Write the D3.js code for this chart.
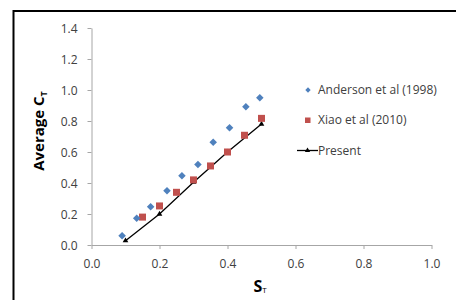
<!DOCTYPE html>
<html><head><meta charset="utf-8">
<script src="https://cdn.jsdelivr.net/npm/d3@7"></script>
<style>body{margin:0;background:#fff}svg{display:block}</style>
</head><body>
<script>
const andersonS = [0.09,0.133,0.174,0.222,0.266,0.313,0.358,0.406,0.454,0.495];
const andersonC = [0.06,0.172,0.247,0.35,0.447,0.52,0.663,0.757,0.892,0.95];
const xiaoS = [0.15,0.2,0.25,0.3,0.35,0.4,0.45,0.5];
const xiaoC = [0.18,0.252,0.34,0.42,0.51,0.60,0.708,0.817];
const presentS = [0.1,0.2,0.3,0.4,0.5];
const presentC = [0.028,0.2,0.405,0.6,0.78];
const xTicks = [0,0.2,0.4,0.6,0.8,1.0];
const yTicks = [0,0.2,0.4,0.6,0.8,1.0,1.2,1.4];
const seriesNames = ["Anderson et al (1998)","Xiao et al (2010)","Present"];

const W=456,H=300;
const svg=d3.select("body").append("svg").attr("width",W).attr("height",H);
svg.append("rect").attr("x",13.5).attr("y",11).attr("width",W+10).attr("height",H+10)
  .attr("fill","none").attr("stroke","#000").attr("stroke-width",2);

const x=d3.scaleLinear().domain([0,1]).range([91.5,431.5]);
const y=d3.scaleLinear().domain([0,1.4]).range([245,28]);
const font="'Open Sans', sans-serif";

const xa=svg.append("g").attr("transform","translate(0,245)")
  .call(d3.axisBottom(x).tickValues(xTicks).tickFormat(d3.format(".1f")).tickSize(4).tickSizeOuter(0));
const ya=svg.append("g").attr("transform","translate(91.5,0)")
  .call(d3.axisLeft(y).tickValues(yTicks).tickFormat(d3.format(".1f")).tickSize(4).tickSizeOuter(0));
[xa,ya].forEach(a=>{
  a.select(".domain").attr("stroke","#a6a6a6");
  a.selectAll(".tick line").attr("stroke","#a6a6a6");
  a.selectAll("text").attr("fill","#404040").style("font-family",font).style("font-size","12px");
});
xa.selectAll("text").attr("y",23).attr("dy","0");
ya.selectAll("text").attr("x",-14).attr("dy","0.35em");

// Present line
const pts=presentS.map((s,i)=>[s,presentC[i]]);
svg.append("path").datum(pts).attr("fill","none").attr("stroke","#000").attr("stroke-width",1.3)
  .attr("d",d3.line().x(d=>x(d[0])).y(d=>y(d[1])));
const tri=d3.symbol().type(d3.symbolTriangle).size(14);
svg.selectAll(".tri").data(pts).join("path").attr("d",tri)
  .attr("transform",d=>`translate(${x(d[0])},${y(d[1])})`).attr("fill","#000");

// Xiao squares
svg.selectAll(".sq").data(xiaoS.map((s,i)=>[s,xiaoC[i]])).join("rect")
  .attr("x",d=>x(d[0])-3.5).attr("y",d=>y(d[1])-3.5).attr("width",7).attr("height",7)
  .attr("fill","#c0504d");
// Anderson diamonds
const dia=d3.symbol().type(d3.symbolDiamond2).size(36);
svg.selectAll(".dia").data(andersonS.map((s,i)=>[s,andersonC[i]])).join("path")
  .attr("d",dia).attr("transform",d=>`translate(${x(d[0])},${y(d[1])}) `).attr("fill","#4f81bd");

// Legend
const lg=svg.append("g");
lg.append("path").attr("d",d3.symbol().type(d3.symbolDiamond2).size(18)).attr("transform","translate(308,90)").attr("fill","#4f81bd");
lg.append("rect").attr("x",305).attr("y",117.5).attr("width",5.5).attr("height",5.5).attr("fill","#c0504d");
lg.append("line").attr("x1",297).attr("x2",318).attr("y1",150.5).attr("y2",150.5).attr("stroke","#000").attr("stroke-width",1.3);
lg.append("path").attr("d",d3.symbol().type(d3.symbolTriangle).size(12)).attr("transform","translate(307.5,150.5)").attr("fill","#000");
[90,120,150.5].forEach((yy,i)=>{
  lg.append("text").attr("x",i===2?318:318).attr("y",yy).attr("dy","0.35em").text(seriesNames[i])
    .attr("fill","#404040").style("font-family",font).style("font-size","12px");
});

// Axis titles
const yt=svg.append("text").attr("transform","translate(44,131) rotate(-90)").attr("text-anchor","middle")
  .style("font-family",font).style("font-size","15px").style("font-weight","bold").attr("fill","#000");
yt.append("tspan").text("Average C");
yt.append("tspan").text("T").style("font-size","9px").attr("dy","3");
const xt=svg.append("text").attr("x",260).attr("y",292).attr("text-anchor","middle")
  .style("font-family",font).style("font-size","16px").style("font-weight","bold").attr("fill","#000");
xt.append("tspan").text("S");
xt.append("tspan").text("T").style("font-size","8px").style("font-weight","normal").attr("dy","1");
</script>
</body></html>
